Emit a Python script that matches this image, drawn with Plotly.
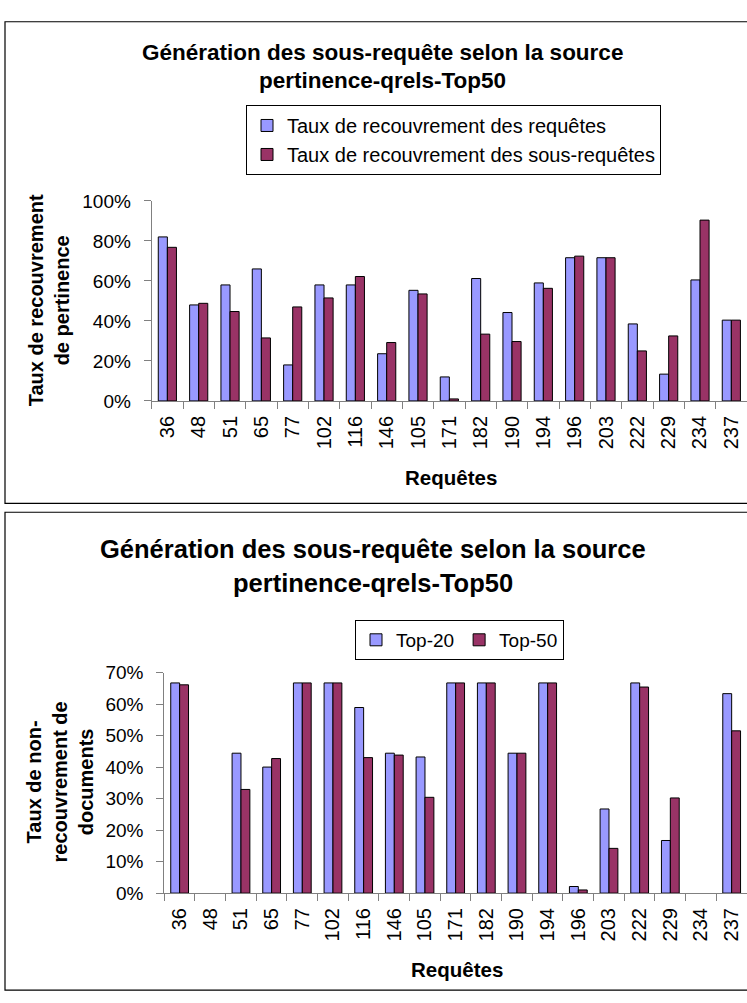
import plotly.graph_objects as go

# Requêtes (catégories de l'axe des x)
requetes = ["36", "48", "51", "65", "77", "102", "116", "146", "105", "171",
            "182", "190", "194", "196", "203", "222", "229", "234", "237"]

# Graphique 1 : taux de recouvrement de pertinence
recouvrement_requetes = [0.82, 0.48, 0.58, 0.66, 0.18, 0.58, 0.58, 0.236, 0.553, 0.12,
                         0.612, 0.442, 0.59, 0.716, 0.716, 0.385, 0.134, 0.605, 0.404]
recouvrement_sous_requetes = [0.768, 0.488, 0.447, 0.315, 0.47, 0.515, 0.622, 0.292, 0.535, 0.01,
                              0.334, 0.297, 0.563, 0.724, 0.716, 0.25, 0.325, 0.904, 0.404]

# Graphique 2 : taux de non-recouvrement de documents
top20 = [0.667, 0, 0.444, 0.40, 0.667, 0.667, 0.589, 0.444, 0.432, 0.667,
         0.667, 0.444, 0.667, 0.021, 0.267, 0.667, 0.167, 0, 0.633]
top50 = [0.661, 0, 0.329, 0.427, 0.667, 0.667, 0.43, 0.438, 0.304, 0.667,
         0.667, 0.444, 0.667, 0.01, 0.142, 0.654, 0.302, 0, 0.515]

W, H = 747, 1003
BLEU = "#9999FF"
PRUNE = "#993366"
FONT = "Liberation Sans, Arial, sans-serif"
AXE = "#808080"


def px_x(v):
    return v / W


def px_y(v):
    return 1 - v / H


def contour(valeurs):
    # pas de contour pour les barres de hauteur nulle
    return dict(color="black", width=[0 if v == 0 else 1 for v in valeurs])


fig = go.Figure()

fig.add_trace(go.Bar(x=requetes, y=recouvrement_requetes, name="Taux de recouvrement des requêtes",
                     marker=dict(color=BLEU, line=contour(recouvrement_requetes)),
                     xaxis="x", yaxis="y", legend="legend"))
fig.add_trace(go.Bar(x=requetes, y=recouvrement_sous_requetes, name="Taux de recouvrement des sous-requêtes",
                     marker=dict(color=PRUNE, line=contour(recouvrement_sous_requetes)),
                     xaxis="x", yaxis="y", legend="legend"))
fig.add_trace(go.Bar(x=requetes, y=top20, name="Top-20",
                     marker=dict(color=BLEU, line=contour(top20)),
                     xaxis="x2", yaxis="y2", legend="legend2"))
fig.add_trace(go.Bar(x=requetes, y=top50, name="Top-50",
                     marker=dict(color=PRUNE, line=contour(top50)),
                     xaxis="x2", yaxis="y2", legend="legend2"))

tick_font = dict(family=FONT, size=19, color="black")

xaxis_common = dict(type="category", tickson="boundaries", ticks="outside", ticklen=7,
                    tickcolor=AXE, showline=True, linecolor=AXE, linewidth=1,
                    showgrid=False, tickangle=-90, tickfont=dict(family=FONT, size=20, color="black"),
                    ticklabelstandoff=6, fixedrange=True)
yaxis_common = dict(ticks="outside", ticklen=7, tickcolor=AXE, showline=True, linecolor=AXE,
                    linewidth=1, showgrid=False, zeroline=False, tickformat=".0%",
                    tickfont=tick_font, ticklabelstandoff=9, fixedrange=True)

fig.update_layout(
    width=W, height=H,
    margin=dict(l=0, r=0, t=0, b=0),
    paper_bgcolor="white", plot_bgcolor="white",
    barmode="group", bargap=0.42, bargroupgap=0,
    font=dict(family=FONT, color="black"),
    xaxis=dict(domain=[px_x(151.7), 1.0], anchor="y", **xaxis_common),
    yaxis=dict(domain=[px_y(399.3), px_y(195)], anchor="x", range=[0, 1], dtick=0.2, **yaxis_common),
    xaxis2=dict(domain=[px_x(164.3), 1.0], anchor="y2", **xaxis_common),
    yaxis2=dict(domain=[px_y(902), px_y(676.7)], anchor="x2", range=[0, 0.7], dtick=0.1, **yaxis_common),
    legend=dict(x=px_x(246), y=px_y(97), xanchor="left", yanchor="top",
                orientation="v", itemwidth=30,
                font=dict(family=FONT, size=20, color="black"),
                bordercolor="black", borderwidth=1, bgcolor="white"),
    legend2=dict(x=px_x(355), y=px_y(623), xanchor="left", yanchor="top",
                 orientation="h", itemwidth=30, font=dict(family=FONT, size=19, color="black"),
                 bordercolor="black", borderwidth=1, bgcolor="white"),
    showlegend=True,
)

# Cadres des deux graphiques
for y0, y1 in [(12, 504), (513, 1001)]:
    fig.add_shape(type="rect", xref="paper", yref="paper",
                  x0=px_x(5), x1=px_x(780), y0=px_y(y1), y1=px_y(y0),
                  line=dict(color="black", width=1.2), fillcolor="rgba(0,0,0,0)", layer="below")


def bold(s):
    return dict(family=FONT, size=s, color="black", weight="bold")


annotations = [
    # Graphique 1
    dict(text="<b>Génération des sous-requête selon la source</b>", x=px_x(382.5), y=px_y(43),
         font=bold(22.5)),
    dict(text="<b>pertinence-qrels-Top50</b>", x=px_x(382.5), y=px_y(72), font=bold(22.5)),
    dict(text="<b>Taux de recouvrement<br>de pertinence</b>", x=px_x(48.5), y=px_y(297),
         textangle=-90, font=bold(20)),
    dict(text="<b>Requêtes</b>", x=px_x(451), y=px_y(477), font=bold(20.5)),
    # Graphique 2
    dict(text="<b>Génération des sous-requête selon la source</b>", x=px_x(373), y=px_y(551),
         font=bold(25.5)),
    dict(text="<b>pertinence-qrels-Top50</b>", x=px_x(373), y=px_y(585), font=bold(25.5)),
    dict(text="<b>Taux de non-<br>recouvrement de<br>documents</b>", x=px_x(60), y=px_y(789),
         textangle=-90, font=bold(20)),
    dict(text="<b>Requêtes</b>", x=px_x(457), y=px_y(980), font=bold(20.5)),
]
for a in annotations:
    fig.add_annotation(xref="paper", yref="paper", showarrow=False,
                       xanchor="center", yanchor="middle", **a)

fig.write_html("out.html")
